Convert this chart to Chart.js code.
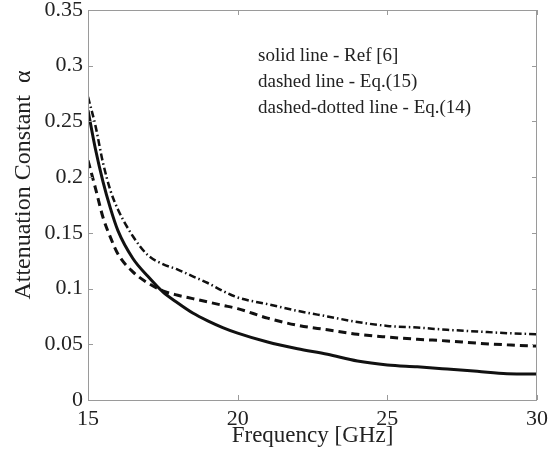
<!DOCTYPE html>
<html>
<head>
<meta charset="utf-8">
<script src="https://cdn.jsdelivr.net/npm/chart.js@4/dist/chart.umd.min.js"></script>
<style>
  body { margin: 0; background: #fff; }
  #wrap { width: 548px; height: 464px; }
</style>
</head>
<body>
<div id="wrap"><canvas id="chart" width="548" height="464"></canvas></div>
<script>
// frequency grid [GHz]
const freq = [15, 15.25, 15.5, 15.75, 16, 16.5, 17, 17.5, 18, 18.5, 19, 19.5, 20, 21, 22, 23, 24, 25, 26, 27, 28, 29, 30];
// solid line - Ref [6]
const refSix = [0.26, 0.225, 0.196, 0.172, 0.152, 0.127, 0.111, 0.097, 0.087, 0.078, 0.071, 0.065, 0.060, 0.052, 0.046, 0.041, 0.035, 0.0315, 0.0298, 0.0278, 0.0257, 0.0235, 0.0233];
// dashed line - Eq.(15)
const eq15 = [0.215, 0.19, 0.164, 0.146, 0.131, 0.115, 0.105, 0.098, 0.094, 0.091, 0.088, 0.085, 0.082, 0.0735, 0.067, 0.063, 0.059, 0.0565, 0.0545, 0.053, 0.051, 0.0495, 0.0484];
// dashed-dotted line - Eq.(14)
const eq14 = [0.272, 0.246, 0.213, 0.188, 0.171, 0.147, 0.130, 0.122, 0.117, 0.111, 0.105, 0.098, 0.092, 0.086, 0.080, 0.075, 0.070, 0.0665, 0.065, 0.063, 0.0615, 0.060, 0.059];

const legendLines = ['solid line - Ref [6]', 'dashed line - Eq.(15)', 'dashed-dotted line - Eq.(14)'];
const yTitle = 'Attenuation Constant  α';

const serif = "'Liberation Serif', 'DejaVu Serif', serif";
const frameColor = '#9a9a9a';
const textColor = '#222';

const toPoints = (ys) => ys.map((y, i) => ({ x: freq[i], y: y }));

// box frame, inward ticks, y title and the text block inside the plot
const frame = {
  id: 'frame',
  afterDraw(chart) {
    const { ctx, chartArea: a, scales } = chart;
    ctx.save();
    ctx.strokeStyle = frameColor;
    ctx.lineWidth = 1;
    ctx.strokeRect(a.left + 0.5, a.top + 0.5, a.right - a.left - 1, a.bottom - a.top);
    ctx.beginPath();
    scales.x.ticks.forEach((t) => {
      const px = Math.round(scales.x.getPixelForValue(t.value)) + 0.5;
      ctx.moveTo(px, a.bottom); ctx.lineTo(px, a.bottom - 5);
      ctx.moveTo(px, a.top); ctx.lineTo(px, a.top + 5);
    });
    scales.y.ticks.forEach((t) => {
      const py = Math.round(scales.y.getPixelForValue(t.value)) + 0.5;
      ctx.moveTo(a.left, py); ctx.lineTo(a.left + 5, py);
      ctx.moveTo(a.right, py); ctx.lineTo(a.right - 5, py);
    });
    ctx.stroke();

    ctx.fillStyle = textColor;
    ctx.font = '19px ' + serif;
    ctx.textBaseline = 'middle';
    legendLines.forEach((s, i) => ctx.fillText(s, 258, 56 + i * 26));

    ctx.translate(24, 185);
    ctx.rotate(-Math.PI / 2);
    ctx.font = '24px ' + serif;
    ctx.textAlign = 'center';
    ctx.fillText(yTitle, 0, 0);
    ctx.restore();
  }
};

new Chart(document.getElementById('chart'), {
  type: 'line',
  data: {
    datasets: [
      {
        label: legendLines[0],
        data: toPoints(refSix),
        borderColor: '#111',
        borderWidth: 3,
        pointRadius: 0,
        cubicInterpolationMode: 'monotone',
      },
      {
        label: legendLines[1],
        data: toPoints(eq15),
        borderColor: '#111',
        borderWidth: 3,
        borderDash: [8, 5],
        pointRadius: 0,
        cubicInterpolationMode: 'monotone',
      },
      {
        label: legendLines[2],
        data: toPoints(eq14),
        borderColor: '#111',
        borderWidth: 2.5,
        borderDash: [7, 3, 1.5, 3],
        pointRadius: 0,
        cubicInterpolationMode: 'monotone',
      },
    ],
  },
  options: {
    responsive: false,
    animation: false,
    layout: { padding: { left: 0, right: 11, top: 10, bottom: 0 } },
    plugins: {
      legend: { display: false },
      tooltip: { enabled: false },
    },
    scales: {
      x: {
        type: 'linear',
        min: 15,
        max: 30,
        afterFit(scale) {
          scale.height = 64;
          scale.paddingLeft = 0;
          scale.paddingRight = 0;
        },
        ticks: {
          stepSize: 5,
          padding: 6,
          color: textColor,
          font: { family: serif, size: 22 },
        },
        grid: { display: false, drawTicks: false },
        border: { display: false },
        title: {
          display: true,
          text: 'Frequency [GHz]',
          color: textColor,
          font: { family: serif, size: 23 },
          padding: { top: 0, bottom: 14 },
        },
      },
      y: {
        min: 0,
        max: 0.35,
        afterFit(scale) {
          scale.width = 88;
          scale.paddingTop = 0;
          scale.paddingBottom = 0;
        },
        ticks: {
          stepSize: 0.05,
          padding: 5,
          color: textColor,
          font: { family: serif, size: 22 },
          callback: (v) => String(Math.round(v * 100) / 100),
        },
        grid: { display: false, drawTicks: false },
        border: { display: false },
        title: { display: false },
      },
    },
  },
  plugins: [frame],
});
</script>
</body>
</html>
